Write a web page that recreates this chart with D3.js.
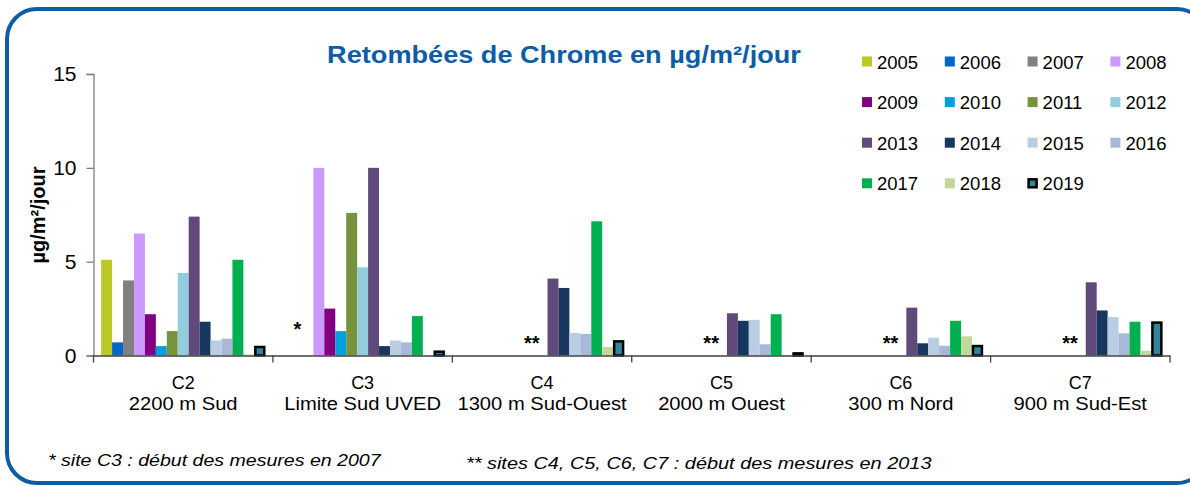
<!DOCTYPE html>
<html>
<head>
<meta charset="utf-8">
<script src="https://cdn.jsdelivr.net/npm/d3@7"></script>
<style>
  body { margin: 0; background: #fff; }
  svg { display: block; font-family: "Liberation Sans", Arial, sans-serif; }
</style>
</head>
<body>
<svg id="chart"></svg>
<script>
// sites and their descriptions
const sites = ["C2", "C3", "C4", "C5", "C6", "C7"];
const siteLabels = ["2200 m Sud", "Limite Sud UVED", "1300 m Sud-Ouest", "2000 m Ouest", "300 m Nord", "900 m Sud-Est"];
const years = ["2005", "2006", "2007", "2008", "2009", "2010", "2011", "2012", "2013", "2014", "2015", "2016", "2017", "2018", "2019"];
const colors = ["#bcc826", "#0066cc", "#808080", "#cc99ff", "#800080", "#00a0dc", "#77933c", "#93cddd",
  "#604a7b", "#17375e", "#b9cde5", "#aab8d8", "#00b050", "#c4d79b", "#31849b"];

// values per site, one per year (null = no measure)
const valC2 = [5.1, 0.7, 4.0, 6.5, 2.2, 0.5, 1.3, 4.4, 7.4, 1.8, 0.8, 0.9, 5.1, 0.05, 0.4];
const valC3 = [null, null, null, 10.0, 2.5, 1.3, 7.6, 4.7, 10.0, 0.5, 0.8, 0.7, 2.1, 0, 0.15];
const valC4 = [null, null, null, null, null, null, null, null, 4.1, 3.6, 1.2, 1.15, 7.15, 0.45, 0.7];
const valC5 = [null, null, null, null, null, null, null, null, 2.25, 1.85, 1.9, 0.6, 2.2, 0.03, 0.06];
const valC6 = [null, null, null, null, null, null, null, null, 2.55, 0.65, 0.95, 0.52, 1.85, 1.02, 0.45];
const valC7 = [null, null, null, null, null, null, null, null, 3.9, 2.4, 2.05, 1.18, 1.8, 0.25, 1.7];
const values = [valC2, valC3, valC4, valC5, valC6, valC7];
const notes = ["", "*", "**", "**", "**", "**"];
const yTicks = [0, 5, 10, 15];

const width = 1190, height = 486;
const svg = d3.select("#chart").attr("width", width).attr("height", height);

// the source picture has its text a bit wider than the font
function stretch(sel, k) {
  sel.each(function () {
    const w = this.getComputedTextLength();
    d3.select(this).attr("textLength", w * k).attr("lengthAdjust", "spacingAndGlyphs");
  });
}

// frame
svg.append("rect")
  .attr("x", 7).attr("y", 9).attr("width", 1200).attr("height", 474)
  .attr("rx", 30).attr("ry", 30)
  .attr("fill", "none").attr("stroke", "#0d5ca6").attr("stroke-width", 4);

const x0 = d3.scaleBand().domain(sites).range([93.5, 1170]).padding(0);
const x1 = d3.scaleBand().domain(years).range([0, x0.bandwidth()]).paddingInner(0).paddingOuter(0.7);
const y = d3.scaleLinear().domain([0, 15]).range([355.5, 74]);

// y axis
const yAxis = svg.append("g").attr("transform", "translate(93.5,0)")
  .call(d3.axisLeft(y).tickValues(yTicks).tickSize(7).tickPadding(10));
yAxis.select(".domain").attr("stroke", "#7f7f7f").attr("stroke-width", 1.3);
yAxis.selectAll(".tick line").attr("stroke", "#7f7f7f").attr("stroke-width", 1.3);
yAxis.selectAll(".tick text").attr("font-size", 21).attr("fill", "#000")
  .attr("font-family", "Liberation Sans, Arial, sans-serif");

svg.append("text")
  .attr("transform", "translate(45,215) rotate(-90)")
  .attr("text-anchor", "middle")
  .attr("font-size", 20).attr("font-weight", "bold")
  .text("µg/m²/jour");

// bars
const groups = svg.append("g").selectAll("g")
  .data(sites.map((s, i) => ({ site: s, vals: values[i], note: notes[i] })))
  .join("g")
  .attr("transform", d => `translate(${x0(d.site)},0)`);

groups.selectAll("rect")
  .data(d => d.vals.map((v, j) => ({ year: years[j], v, j })).filter(e => e.v !== null && e.v > 0))
  .join("rect")
  .attr("x", e => x1(e.year) + (e.j === 14 ? 1 : 0))
  .attr("width", e => x1.bandwidth() - (e.j === 14 ? 2 : 0))
  .attr("y", e => y(e.v) - (e.j === 14 ? 1 : 0))
  .attr("height", e => y(0) - y(e.v) + (e.j === 14 ? 1 : 0))
  .attr("fill", e => colors[e.j])
  .attr("stroke", e => e.j === 14 ? "#000" : "none")
  .attr("stroke-width", e => e.j === 14 ? 2.5 : 0);

// notes (* / **) left of the first bar
groups.append("text")
  .attr("x", d => {
    const first = d.vals.findIndex(v => v !== null);
    return x1(years[first]) - (d.note === "*" ? 12 : 8);
  })
  .attr("y", d => d.note === "*" ? 336 : 350)
  .attr("text-anchor", "end")
  .attr("font-size", 20).attr("font-weight", "bold")
  .text(d => d.note);

// x axis
const xAxis = svg.append("g").attr("transform", `translate(0,${y(0)})`)
  .call(d3.axisBottom(x0).tickSize(0).tickFormat(""));
xAxis.select(".domain").attr("stroke", "#404040").attr("stroke-width", 1.3);
svg.append("g").selectAll("line")
  .data(sites.map(s => x0(s)).concat([x0(sites[sites.length - 1]) + x0.bandwidth()]))
  .join("line")
  .attr("x1", d => d).attr("x2", d => d)
  .attr("y1", y(0)).attr("y2", y(0) + 7)
  .attr("stroke", "#404040").attr("stroke-width", 1.3);

const lab = svg.append("g").selectAll("text").data(sites).join("text")
  .attr("text-anchor", "middle")
  .attr("font-size", 18)
  .attr("transform", (s) => `translate(${x0(s) + x0.bandwidth() / 2},0)`);
lab.append("tspan").attr("x", 0).attr("y", 389).text(s => s);
lab.append("tspan").attr("x", 0).attr("y", 410).text((s, i) => siteLabels[i]).call(stretch, 1.12);

// title
svg.append("text")
  .attr("x", 564).attr("y", 63)
  .attr("text-anchor", "middle")
  .attr("font-size", 24).attr("font-weight", "bold").attr("fill", "#0d5ca6")
  .text("Retombées de Chrome en µg/m²/jour").call(stretch, 1.13);

// legend
const legend = svg.append("g").selectAll("g").data(years).join("g")
  .attr("transform", (yr, i) => `translate(${862 + (i % 4) * 82.8},${61.5 + Math.floor(i / 4) * 40.6})`);
legend.append("rect")
  .attr("x", (yr, i) => i === 14 ? 1 : 0).attr("y", (yr, i) => i === 14 ? -4 : -5)
  .attr("width", (yr, i) => i === 14 ? 8 : 10).attr("height", (yr, i) => i === 14 ? 8 : 10)
  .attr("fill", (yr, i) => colors[i])
  .attr("stroke", (yr, i) => i === 14 ? "#000" : "none")
  .attr("stroke-width", 2.5);
legend.append("text")
  .attr("x", 15).attr("y", 7)
  .attr("font-size", 18.5)
  .text(yr => yr);

// footnotes
svg.append("text")
  .attr("x", 48).attr("y", 466)
  .attr("font-size", 17).attr("font-style", "italic")
  .text("* site C3 : début des mesures en 2007").call(stretch, 1.15);
svg.append("text")
  .attr("x", 466).attr("y", 469)
  .attr("font-size", 17).attr("font-style", "italic")
  .text("** sites C4, C5, C6, C7 : début des mesures en 2013").call(stretch, 1.17);
</script>
</body>
</html>
